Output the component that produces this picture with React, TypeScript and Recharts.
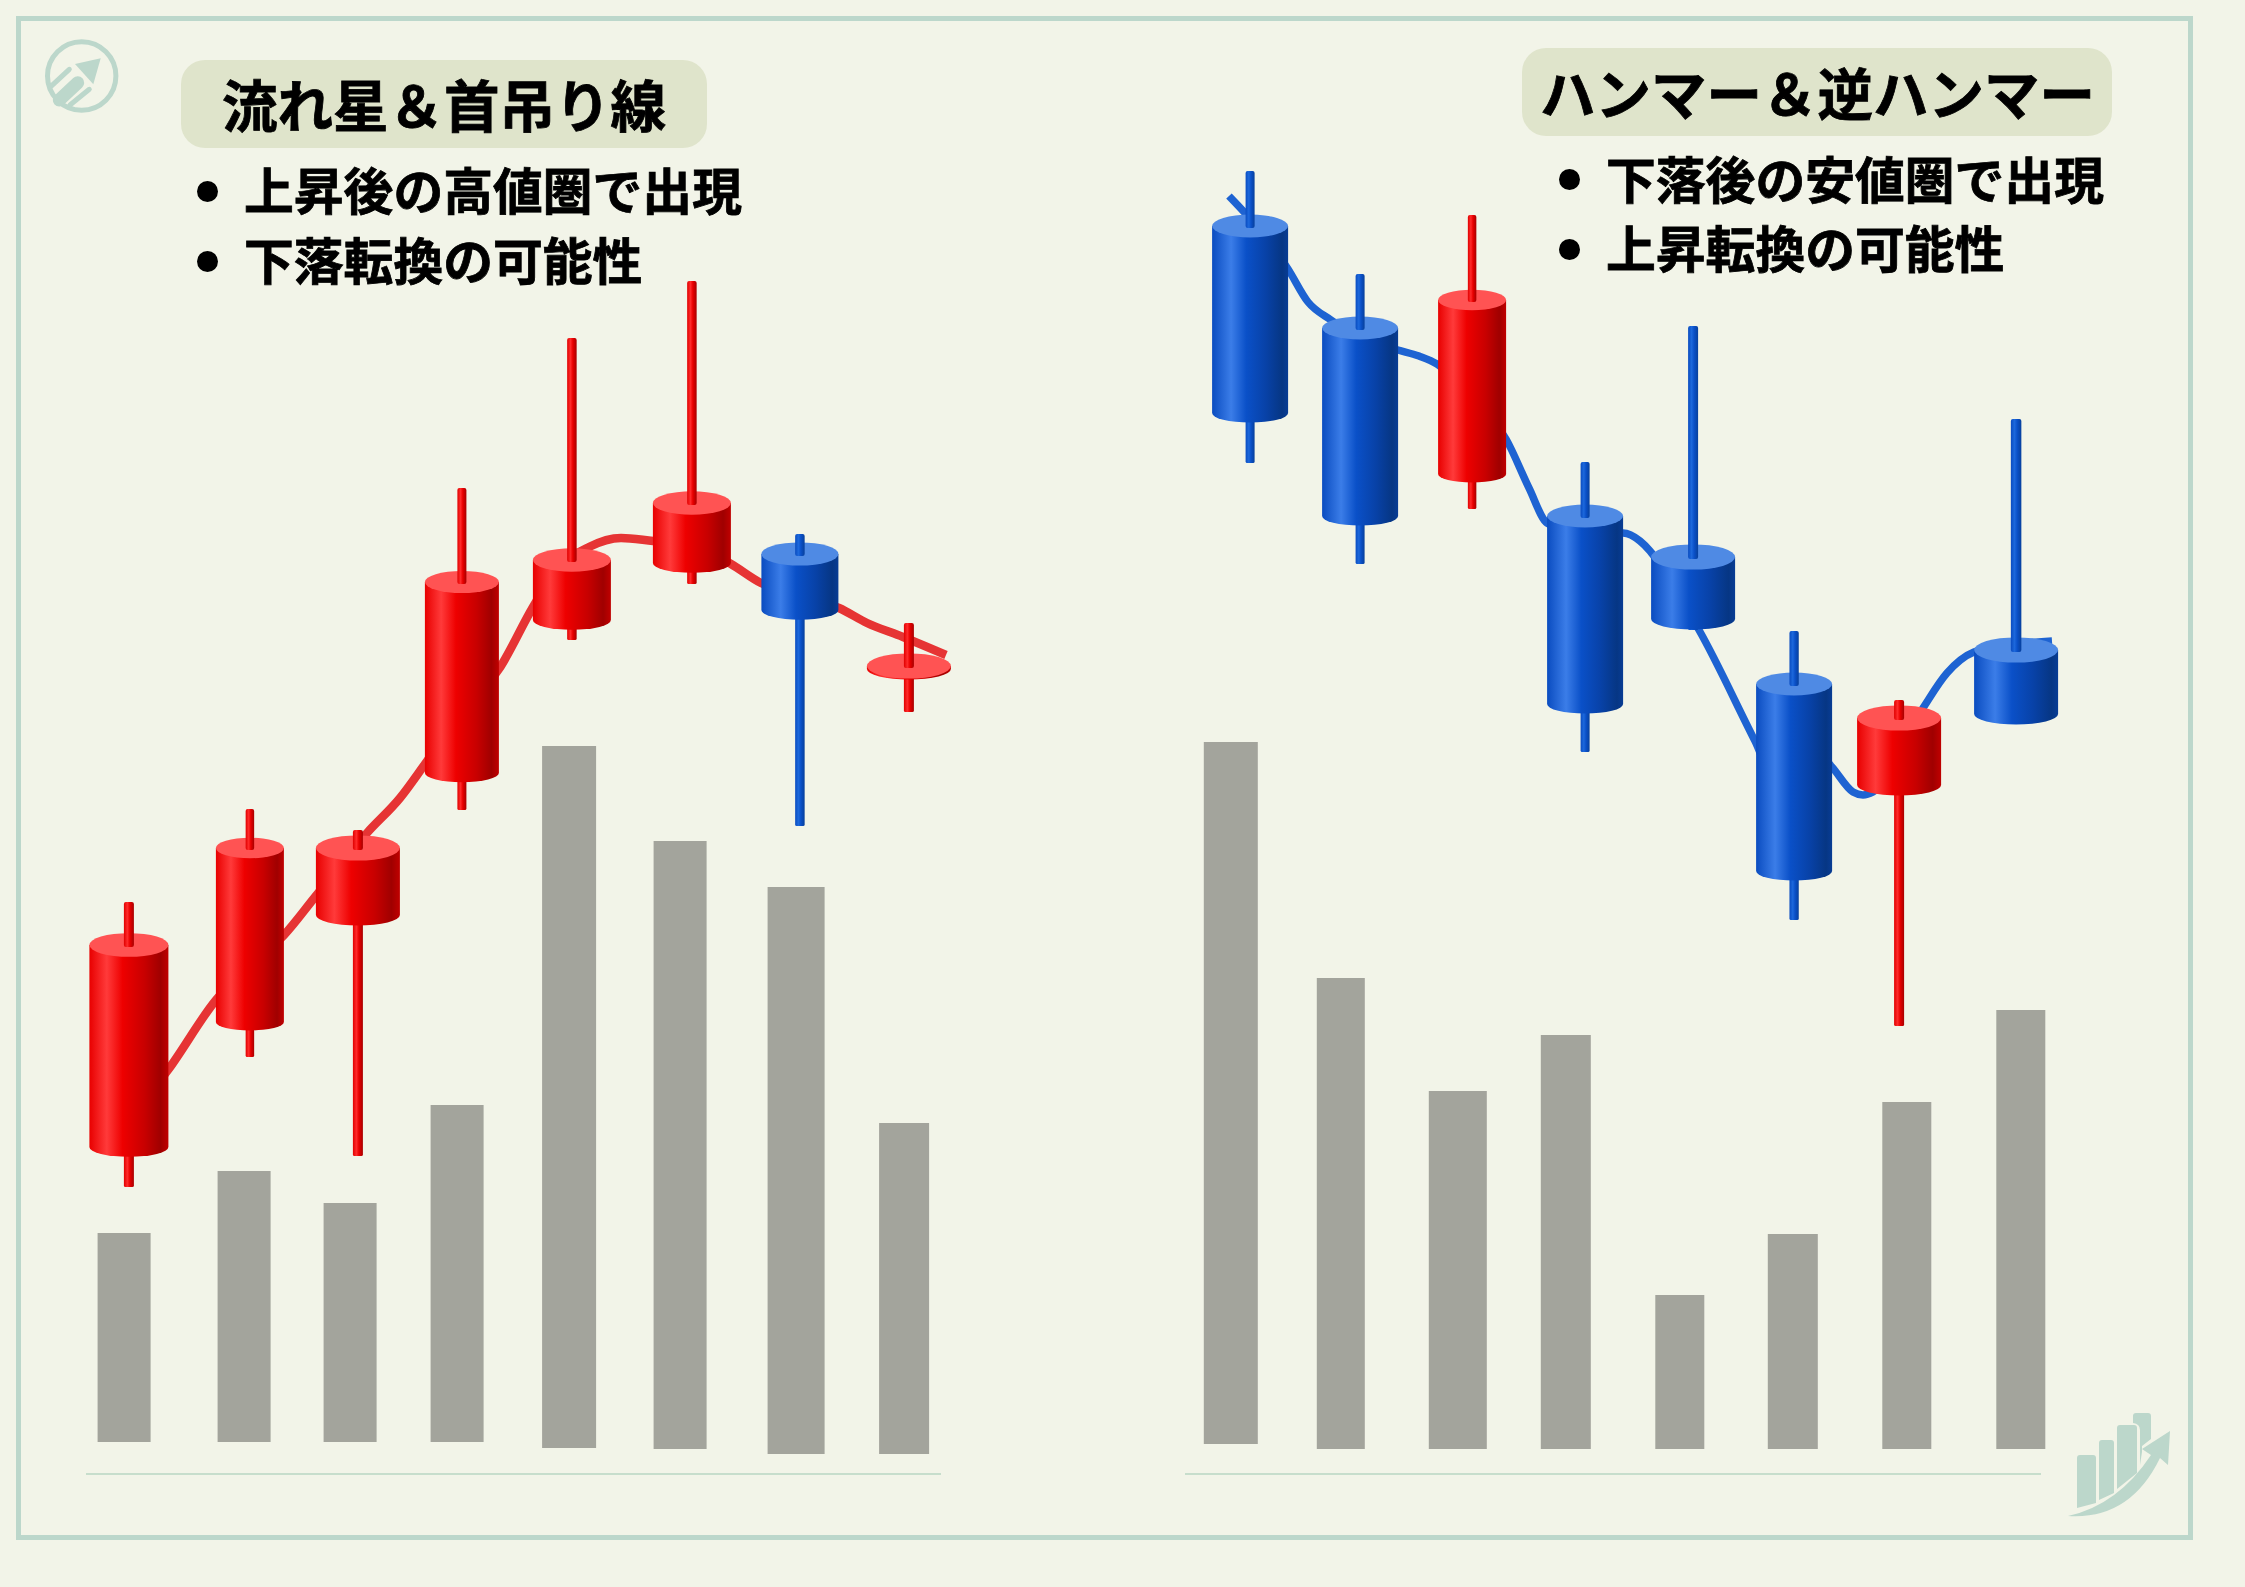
import { Bar, ComposedChart, Line, ReferenceLine, XAxis, YAxis } from 'recharts';

// Left panel: shooting star & hanging man
const leftCandleX = [1.29, 2.5, 3.58, 4.62, 5.72, 6.92, 8.0, 9.09];
const leftOpen = [32.7, 45.2, 55.9, 70.1, 85.4, 91.1, 92.0, 80.5];
const leftClose = [52.9, 62.6, 62.6, 89.2, 91.4, 97.1, 86.4, 80.8];
const leftHigh = [57.2, 66.5, 64.4, 98.6, 113.6, 119.3, 94.0, 85.1];
const leftLow = [28.7, 41.7, 31.8, 66.4, 83.4, 89.0, 64.8, 76.2];
const leftVolX = [1.24, 2.44, 3.5, 4.57, 5.69, 6.8, 7.96, 9.04];
const leftVolTop = [24.1, 30.3, 27.1, 36.9, 72.8, 63.3, 58.7, 35.1];
const leftVolBase = [3.2, 3.2, 3.2, 3.2, 2.6, 2.5, 2.0, 2.0];
const leftTrendX = [1.28, 1.68, 2.16, 2.5, 2.84, 3.15, 3.67, 4.0, 4.25, 4.62, 4.99, 5.33, 5.55, 5.89, 6.21, 6.53, 6.93, 7.31, 7.61, 8.0, 8.39, 8.67, 9.03, 9.46];
const leftTrendY = [35.4, 40.4, 47.4, 50.9, 53.9, 57.7, 64.1, 67.6, 71.0, 76.2, 80.5, 86.7, 90.2, 92.7, 93.6, 93.3, 92.9, 91.0, 89.1, 87.8, 86.6, 85.1, 83.7, 81.9];

// Right panel: hammer & inverted hammer
const rightCandleX = [12.5, 13.6, 14.72, 15.85, 16.93, 17.94, 18.99, 20.16];
const rightOpen = [124.8, 114.6, 100.0, 95.8, 91.7, 79.0, 68.9, 82.4];
const rightClose = [106.1, 95.8, 117.4, 77.0, 85.5, 60.3, 75.6, 76.0];
const rightHigh = [130.3, 120.0, 125.9, 101.2, 114.8, 84.3, 77.4, 105.5];
const rightLow = [101.1, 91.0, 96.5, 72.2, 84.4, 55.4, 44.8, 75.0];
const rightVolX = [12.31, 13.41, 14.58, 15.66, 16.8, 17.93, 19.07, 20.21];
const rightVolTop = [73.2, 49.6, 38.3, 43.9, 17.9, 24.0, 37.2, 46.4];
const rightVolBase = [3.0, 2.5, 2.5, 2.5, 2.5, 2.5, 2.5, 2.5];
const rightTrendX = [12.29, 12.45, 12.88, 13.08, 13.31, 13.65, 13.98, 14.19, 14.37, 14.72, 15.06, 15.29, 15.47, 15.85, 16.23, 16.4, 16.5, 16.75, 16.99, 17.55, 17.75, 18.1, 18.32, 18.53, 18.63, 18.73, 19.23, 19.47, 19.74, 20.1, 20.52];
const rightTrendY = [127.8, 126.1, 120.5, 117.2, 115.4, 113.4, 112.4, 111.8, 111.0, 107.4, 103.5, 98.6, 95.1, 93.9, 94.1, 93.3, 92.3, 88.4, 84.4, 73.3, 69.4, 72.9, 70.7, 68.2, 67.9, 68.2, 76.6, 80.1, 82.2, 82.9, 83.3];

// sizes in pixels, kept apart from the values
const leftBodyW = [79, 68, 84, 74, 78, 78, 77, 84];
const leftWickW = [10, 8.5, 10, 9, 9.5, 9.5, 9.5, 10];
const leftVolW = [53, 53, 53, 53, 54, 53, 57, 50];
const rightBodyW = [76, 76, 68, 76, 84, 76, 84, 84];
const rightWickW = [9, 9, 8.5, 9, 10, 9.3, 10, 10.5];
const rightVolW = [54, 48, 58, 50, 49, 50, 49, 49];

const BG = '#f2f4e8';
const MINT = '#bcd7cb';
const FONT = '"Noto Sans CJK JP", "Noto Sans", sans-serif';

const buildRows = (candleX, open, close, high, low, volX, volTop, volBase) =>
  candleX.map((x, i) => ({
    x,
    open: open[i],
    close: close[i],
    high: high[i],
    low: low[i],
    volX: volX[i],
    volTop: volTop[i],
    volBase: volBase[i],
  }));

const Gradients = () => (
  <defs>
    <linearGradient id="bodyRed" x1="0" y1="0" x2="1" y2="0">
      <stop offset="0%" stopColor="#e80000" />
      <stop offset="22%" stopColor="#ff3a3a" />
      <stop offset="42%" stopColor="#ee0000" />
      <stop offset="70%" stopColor="#c80000" />
      <stop offset="90%" stopColor="#a00000" />
      <stop offset="100%" stopColor="#c00000" />
    </linearGradient>
    <linearGradient id="bodyBlue" x1="0" y1="0" x2="1" y2="0">
      <stop offset="0%" stopColor="#0a4cc0" />
      <stop offset="25%" stopColor="#3b7de8" />
      <stop offset="45%" stopColor="#0a50c8" />
      <stop offset="70%" stopColor="#0842a8" />
      <stop offset="92%" stopColor="#063684" />
      <stop offset="100%" stopColor="#083c94" />
    </linearGradient>
    <linearGradient id="wickRed" x1="0" y1="0" x2="1" y2="0">
      <stop offset="0%" stopColor="#e00000" />
      <stop offset="35%" stopColor="#ff2a2a" />
      <stop offset="60%" stopColor="#e80000" />
      <stop offset="100%" stopColor="#a80000" />
    </linearGradient>
    <linearGradient id="wickBlue" x1="0" y1="0" x2="1" y2="0">
      <stop offset="0%" stopColor="#0a4cc0" />
      <stop offset="35%" stopColor="#1c68dc" />
      <stop offset="60%" stopColor="#0a50c8" />
      <stop offset="100%" stopColor="#07409c" />
    </linearGradient>
  </defs>
);

const candleShape = (bodyW, wickW) => (props) => {
  const { x, y, width, height, payload, index } = props;
  const cx = x + width / 2;
  const perUnit = height / (payload.high - payload.low);
  const bullish = payload.close >= payload.open;
  const top = y + (payload.high - Math.max(payload.open, payload.close)) * perUnit;
  const bottom = y + (payload.high - Math.min(payload.open, payload.close)) * perUnit;
  const rx = bodyW[index] / 2;
  const ry = rx * 0.3;
  const ryBottom = rx * 0.25;
  const wick = wickW[index];
  const side = bullish ? 'Red' : 'Blue';
  return (
    <g>
      <rect x={cx - wick / 2} y={bottom} width={wick} height={y + height - bottom} rx={1.5} fill={`url(#wick${side})`} />
      <path
        d={`M${cx - rx} ${top}L${cx - rx} ${bottom}A${rx} ${ryBottom} 0 0 0 ${cx + rx} ${bottom}L${cx + rx} ${top}Z`}
        fill={`url(#body${side})`}
      />
      <ellipse cx={cx} cy={top} rx={rx} ry={ry} fill={bullish ? '#ff5353' : '#4f8ae4'} />
      <rect x={cx - wick / 2} y={y} width={wick} height={top + 2 - y} rx={2} fill={`url(#wick${side})`} />
    </g>
  );
};

const volumeShape = (volW) => (props) => {
  const { x, y, width, height, index } = props;
  const w = volW[index];
  return <rect x={x + width / 2 - w / 2} y={y} width={w} height={height} fill="#a3a49c" />;
};

const Panel = ({ left, width, rows, trend, bodyW, wickW, volW, color, lineWidth, base }) => {
  const xDomain = [left / 100, (left + width) / 100];
  const margin = { top: 0, right: 0, bottom: 0, left: 0 };
  return (
    <>
      <div style={{ position: 'absolute', left, top: 0 }}>
        <ComposedChart width={width} height={1587} data={rows} margin={margin}>
          <XAxis xAxisId="vol" dataKey="volX" type="number" domain={xDomain} hide allowDataOverflow />
          <XAxis xAxisId="trend" dataKey="x" type="number" domain={xDomain} hide allowDataOverflow />
          <YAxis type="number" domain={[-11.3, 147.4]} hide allowDataOverflow />
          <ReferenceLine
            xAxisId="trend"
            segment={[{ x: base[0], y: 0 }, { x: base[1], y: 0 }]}
            stroke="#9cc7b0"
            strokeWidth={1}
          />
          <Bar
            xAxisId="vol"
            dataKey={(r) => [r.volBase, r.volTop]}
            shape={volumeShape(volW)}
            isAnimationActive={false}
          />
          <Line
            xAxisId="trend"
            data={trend}
            dataKey="y"
            type="monotone"
            stroke={color}
            strokeWidth={lineWidth}
            dot={false}
            activeDot={false}
            isAnimationActive={false}
          />
        </ComposedChart>
      </div>
      {/* candles sit in a second chart so they cover the trend line */}
      <div style={{ position: 'absolute', left, top: 0 }}>
        <ComposedChart width={width} height={1587} data={rows} margin={margin}>
          <Gradients />
          <XAxis xAxisId="candle" dataKey="x" type="number" domain={xDomain} hide allowDataOverflow />
          <YAxis type="number" domain={[-11.3, 147.4]} hide allowDataOverflow />
          <Bar
            xAxisId="candle"
            dataKey={(r) => [r.low, r.high]}
            shape={candleShape(bodyW, wickW)}
            isAnimationActive={false}
          />
        </ComposedChart>
      </div>
    </>
  );
};

const Label = ({ text, x, cy, size }) => (
  <div
    style={{
      position: 'absolute',
      left: x,
      top: cy - 40,
      height: 80,
      lineHeight: '80px',
      fontFamily: FONT,
      fontWeight: 700,
      fontSize: size,
      color: '#000',
      whiteSpace: 'nowrap',
      WebkitTextStroke: '0.8px #000',
    }}
  >
    {text}
  </div>
);

const Heading = ({ text, box, x, size }) => (
  <>
    <div
      style={{
        position: 'absolute',
        left: box[0],
        top: box[1],
        width: box[2],
        height: box[3],
        borderRadius: 24,
        background: '#dfe4cb',
      }}
    />
    <Label text={text} x={x} cy={box[1] + box[3] / 2 - 1.5} size={size} />
  </>
);

const Dot = ({ x, y }) => (
  <div
    style={{
      position: 'absolute',
      left: x - 10.5,
      top: y - 10.5,
      width: 21,
      height: 21,
      borderRadius: '50%',
      background: '#000',
    }}
  />
);

const Logos = () => (
  <svg width={2245} height={1587} style={{ position: 'absolute', left: 0, top: 0 }}>
    <circle cx={81.7} cy={76} r={34.2} fill="none" stroke={MINT} strokeWidth={5} />
    <path d="M100.7 58.3L75 64L93.3 84.3Z" fill={MINT} />
    <path d="M77.7 82.7L59.3 100" stroke={MINT} strokeWidth={13} strokeLinecap="round" />
    <path d="M69.3 69.3L50.7 86.7M89.3 89.3L70 105" stroke={MINT} strokeWidth={5} strokeLinecap="round" />
    <g fill={MINT}>
      <path d="M2077 1458Q2077 1455 2080 1455L2093 1455Q2096 1455 2096 1458L2096 1503L2077 1508Z" />
      <path d="M2099 1443Q2099 1440 2102 1440L2111 1440Q2114 1440 2114 1443L2114 1493L2099 1500Z" />
      <path d="M2117 1428Q2117 1425 2120 1425L2134 1425Q2137 1425 2137 1428L2137 1473L2117 1489Z" />
      <path d="M2133 1416Q2133 1413 2136 1413L2148 1413Q2151 1413 2151 1416L2151 1439L2142 1446L2142 1452L2140 1465L2140 1430Q2140 1424 2133 1423Z" />
      <path d="M2068 1516Q2118 1505 2151 1455L2142 1449L2170 1431L2168 1465L2160 1458Q2130 1520 2068 1516Z" />
    </g>
  </svg>
);

export default function App() {
  const leftRows = buildRows(leftCandleX, leftOpen, leftClose, leftHigh, leftLow, leftVolX, leftVolTop, leftVolBase);
  const rightRows = buildRows(rightCandleX, rightOpen, rightClose, rightHigh, rightLow, rightVolX, rightVolTop, rightVolBase);
  const leftTrend = leftTrendX.map((x, i) => ({ x, y: leftTrendY[i] }));
  const rightTrend = rightTrendX.map((x, i) => ({ x, y: rightTrendY[i] }));

  return (
    <div style={{ position: 'absolute', left: 0, top: 0, width: 2245, height: 1587, background: BG, overflow: 'hidden' }}>
      <div
        style={{
          position: 'absolute',
          left: 16,
          top: 16,
          width: 2177,
          height: 1524,
          boxSizing: 'border-box',
          border: `5.5px solid ${MINT}`,
        }}
      />
      <Logos />
      <Panel
        left={0}
        width={1130}
        rows={leftRows}
        trend={leftTrend}
        bodyW={leftBodyW}
        wickW={leftWickW}
        volW={leftVolW}
        color="#e63434"
        lineWidth={8.5}
        base={[0.86, 9.41]}
      />
      <Panel
        left={1130}
        width={1115}
        rows={rightRows}
        trend={rightTrend}
        bodyW={rightBodyW}
        wickW={rightWickW}
        volW={rightVolW}
        color="#1e63d2"
        lineWidth={7.5}
        base={[11.85, 20.41]}
      />
      <Heading text="流れ星＆首吊り線" box={[181, 60, 526, 88]} x={222} size={55.5} />
      <Dot x={207} y={191} />
      <Label text="上昇後の高値圏で出現" x={244} cy={187.5} size={49.8} />
      <Dot x={207} y={261} />
      <Label text="下落転換の可能性" x={244} cy={257.5} size={49.8} />
      <Heading text="ハンマー＆逆ハンマー" box={[1522, 48, 590, 88]} x={1540} size={55.5} />
      <Dot x={1569} y={179} />
      <Label text="下落後の安値圏で出現" x={1606} cy={176.5} size={49.8} />
      <Dot x={1569} y={249} />
      <Label text="上昇転換の可能性" x={1606} cy={246} size={49.8} />
    </div>
  );
}
